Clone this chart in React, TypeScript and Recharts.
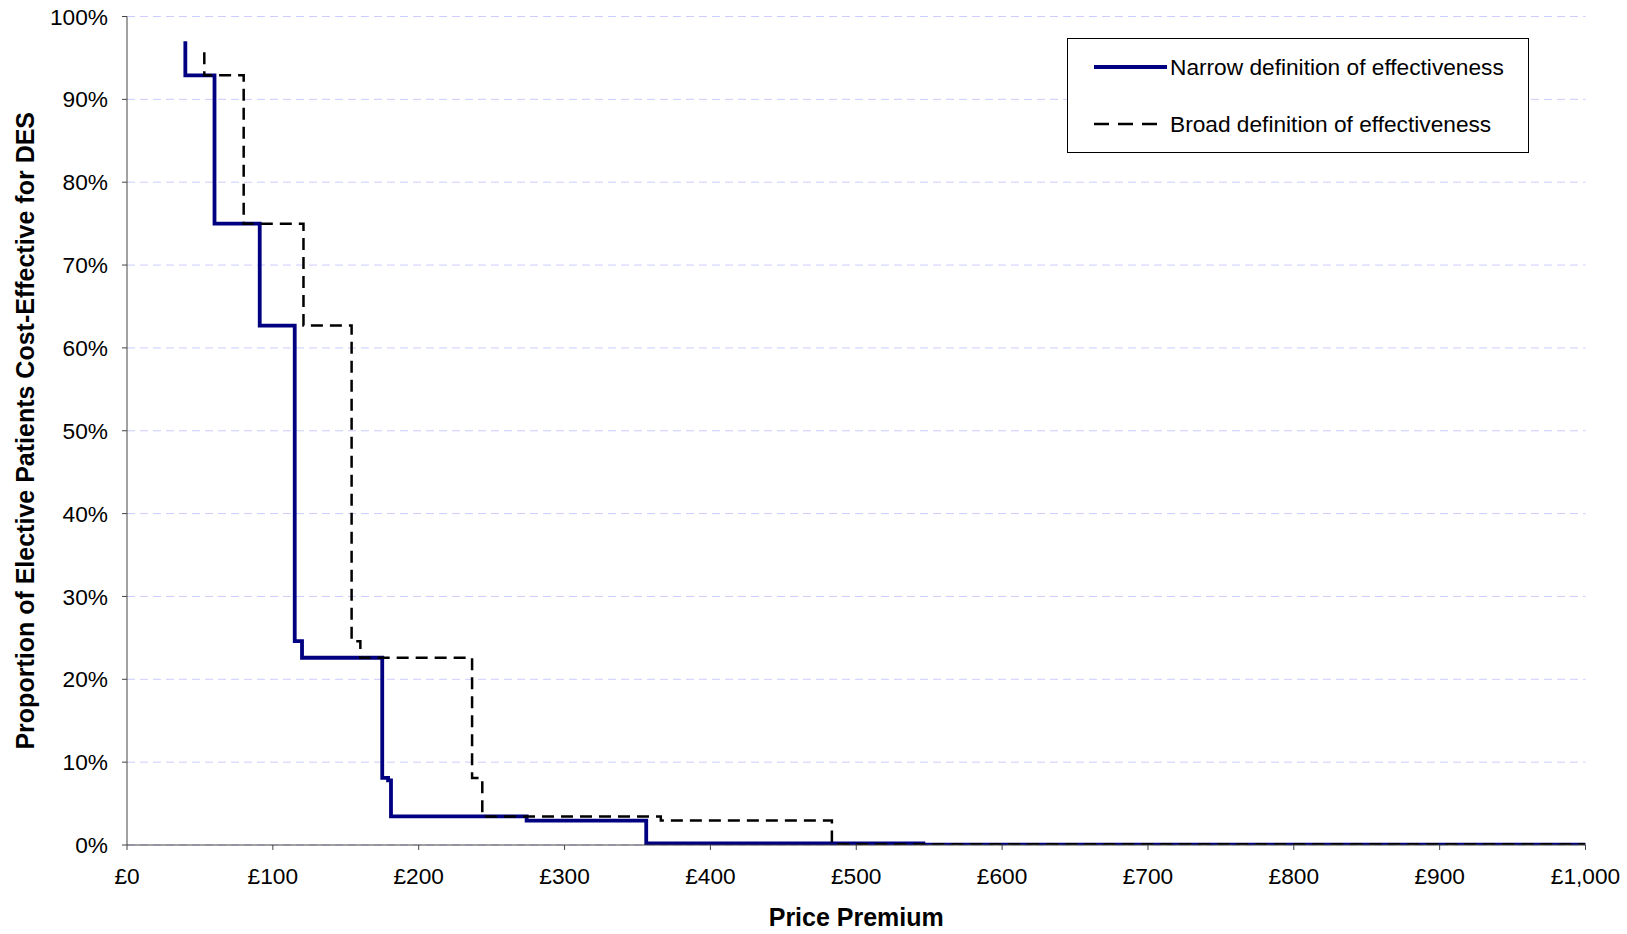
import React from 'react';
import { LineChart, Line, XAxis, YAxis, CartesianGrid, Legend } from 'recharts';

// Narrow definition of effectiveness (solid navy step line)
const narrowPremium = [40, 40, 60, 91, 115, 120, 175, 179, 181, 274, 356, 546, 1000];
const narrowProportion = [0.97, 0.929, 0.75, 0.627, 0.246, 0.226, 0.081, 0.078, 0.0345, 0.0295, 0.002, 0.0005, 0.0005];

// Broad definition of effectiveness (black dashed step line)
const broadPremium = [53, 53, 80, 121, 154, 160, 236.6, 243.6, 366, 483.3, 1000];
const broadProportion = [0.957, 0.929, 0.75, 0.627, 0.246, 0.226, 0.081, 0.0345, 0.0295, 0.001, 0.001];

const xTicks = [0, 100, 200, 300, 400, 500, 600, 700, 800, 900, 1000];
const yTicks = [0, 0.1, 0.2, 0.3, 0.4, 0.5, 0.6, 0.7, 0.8, 0.9, 1];

const seriesNames = ['Narrow definition of effectiveness', 'Broad definition of effectiveness'];
const xTitle = 'Price Premium';
const yTitle = 'Proportion of Elective Patients Cost-Effective for DES';

const narrowData = narrowPremium.map((x, i) => ({ x, y: narrowProportion[i] }));
const broadData = broadPremium.map((x, i) => ({ x, y: broadProportion[i] }));

const FONT = '"Liberation Sans", Arial, sans-serif';
const TICK_FS = 22.7;

const fmtMoney = (v: number) => '£' + v.toLocaleString('en-GB');
const fmtPct = (v: number) => Math.round(v * 100) + '%';

const LegendBox = () => (
  <div
    style={{
      position: 'absolute',
      left: 0,
      top: 0,
      width: 460,
      height: 113,
      border: '1px solid #000',
      background: '#fff',
      fontFamily: FONT,
      color: '#000',
    }}
  >
    <svg width={460} height={113} style={{ position: 'absolute', left: 0, top: 0 }}>
      <line x1={26} x2={99} y1={28} y2={28} stroke="#000080" strokeWidth={3.8} />
      <line x1={26} x2={92} y1={85} y2={85} stroke="#000" strokeWidth={2.5} strokeDasharray="15 9" />
      <text x={102} y={28} dy="0.355em" fontSize={TICK_FS} fontFamily={FONT} fill="#000">
        {seriesNames[0]}
      </text>
      <text x={102} y={85} dy="0.355em" fontSize={TICK_FS} fontFamily={FONT} fill="#000">
        {seriesNames[1]}
      </text>
    </svg>
  </div>
);

export default function App() {
  return (
    <div style={{ position: 'absolute', left: 0, top: 0, width: 1627, height: 934, background: '#fff' }}>
      <LineChart
        width={1627}
        height={934}
        margin={{ top: 16.5, right: 41.5, bottom: 0, left: 0 }}
        style={{ fontFamily: FONT }}
      >
        <CartesianGrid vertical={false} stroke="#ccccff" strokeDasharray="8 5" strokeWidth={1} />
        <XAxis
          dataKey="x"
          type="number"
          domain={[0, 1000]}
          ticks={xTicks}
          tickFormatter={fmtMoney}
          allowDataOverflow
          height={89}
          tickSize={5}
          tickMargin={18}
          stroke="#444"
          tick={{ fill: '#000', fontSize: TICK_FS, fontFamily: FONT }}
          label={(props: any) => {
            const vb = props.viewBox || {};
            return (
              <text
                x={vb.x + vb.width / 2}
                y={917}
                dy="0.355em"
                textAnchor="middle"
                fontSize={25}
                fontWeight="bold"
                fontFamily={FONT}
                fill="#000"
              >
                {xTitle}
              </text>
            );
          }}
        />
        <YAxis
          dataKey="y"
          type="number"
          domain={[0, 1]}
          ticks={yTicks}
          tickFormatter={fmtPct}
          allowDataOverflow
          width={127}
          tickSize={5}
          tickMargin={14}
          stroke="#444"
          tick={{ fill: '#000', fontSize: TICK_FS, fontFamily: FONT }}
          label={(props: any) => {
            const vb = props.viewBox || {};
            const cy = vb.y + vb.height / 2;
            return (
              <text
                x={25}
                y={cy}
                dy="0.355em"
                textAnchor="middle"
                transform={`rotate(-90, 25, ${cy})`}
                fontSize={25}
                fontWeight="bold"
                fontFamily={FONT}
                fill="#000"
              >
                {yTitle}
              </text>
            );
          }}
        />
        <Legend
          content={() => <LegendBox />}
          wrapperStyle={{ position: 'absolute', left: 1067, top: 38, width: 0, height: 0, overflow: 'visible' }}
        />
        <Line
          data={narrowData}
          dataKey="y"
          name={seriesNames[0]}
          type="stepAfter"
          stroke="#000080"
          strokeWidth={3.8}
          dot={false}
          activeDot={false}
          isAnimationActive={false}
        />
        <Line
          data={broadData}
          dataKey="y"
          name={seriesNames[1]}
          type="stepAfter"
          stroke="#000"
          strokeWidth={2.5}
          strokeDasharray="12 7"
          dot={false}
          activeDot={false}
          isAnimationActive={false}
        />
      </LineChart>
    </div>
  );
}
